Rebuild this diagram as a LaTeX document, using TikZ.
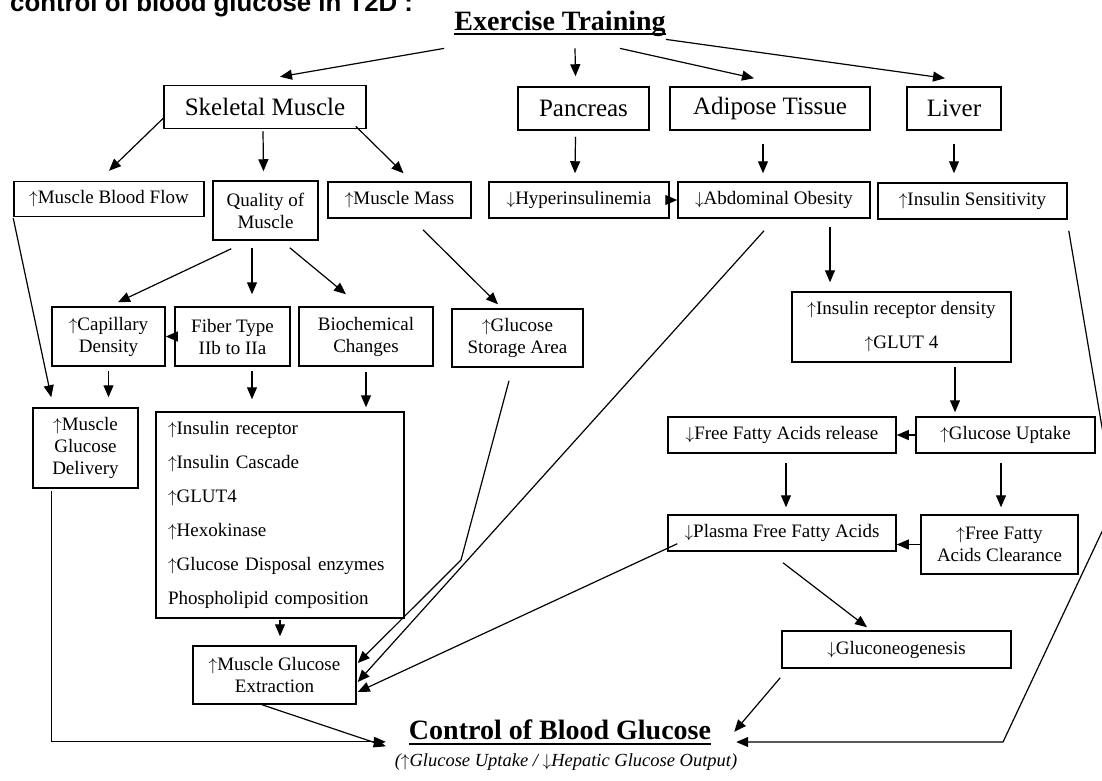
\documentclass[tikz,border=0pt]{standalone}
\usepackage{fontspec}
\setmainfont{Liberation Serif}
\newfontfamily\headfont{Liberation Sans}
\usetikzlibrary{arrows.meta,calc}
\newcommand{\incr}{$\uparrow$}
\newcommand{\decr}{$\downarrow$}

\begin{document}
\begin{tikzpicture}[x=1pt,y=-1pt,
	bigbox/.style={draw, line width=1.5pt, inner sep=0pt, minimum height=43pt,
	font=\fontsize{25}{30}\selectfont},
	smallbox/.style={draw, line width=1.5pt, inner sep=0pt, align=center,
	font=\fontsize{19}{22}\selectfont},
	title/.style={inner sep=0pt, anchor=base, font=\bfseries\fontsize{28}{32}\selectfont},
	arr/.style={-{Triangle[length=12pt,width=10pt]}, line width=1.2pt}
	]
	\useasboundingbox (0,0) rectangle (1102,780);
	\clip (0,0) rectangle (1102,780);
	
	\node[anchor=base west, inner sep=0pt, font=\headfont\bfseries\fontsize{25.8}{30}\selectfont]
	(ttl) at (10,11) {control of blood glucose in T2D :};
	
	\node[title] (exer) at (560,30) {Exercise Training};
	\draw[line width=1.4pt] ([yshift=-4pt]exer.base west) -- ([yshift=-4pt]exer.base east);
	
	\node[bigbox, minimum width=202pt] (skel) at (265,107) {Skeletal Muscle};
	\node[bigbox, minimum width=131pt] (panc) at (583.5,108.5) {Pancreas};
	\node[bigbox, minimum width=200pt] (adip) at (770,108.5) {Adipose Tissue};
	\node[bigbox, minimum width=94pt] (liver) at (954,108.5) {Liver};
	
	\node[smallbox, minimum width=190pt, minimum height=35pt] (blood) at (109,199) {\incr Muscle Blood Flow};
	\node[smallbox, minimum width=105pt, minimum height=59pt] (qual) at (265.5,210.5) {Quality of\\Muscle};
	\node[smallbox, minimum width=143pt, minimum height=36pt] (mass) at (399.5,200) {\incr Muscle Mass};
	\node[smallbox, minimum width=180pt, minimum height=36pt] (hyper) at (579,200) {\decr Hyperinsulinemia};
	\node[smallbox, minimum width=192pt, minimum height=36pt] (abd) at (774,200) {\decr Abdominal Obesity};
	\node[smallbox, minimum width=189pt, minimum height=36pt] (inssen) at (972.5,201) {\incr Insulin Sensitivity};
	
	\node[smallbox, minimum width=113pt, minimum height=59pt] (cap) at (108.5,336.5) {\incr Capillary\\Density};
	\node[smallbox, minimum width=115pt, minimum height=59pt] (fiber) at (232.5,336.5) {Fiber Type\\IIb to IIa};
	\node[smallbox, minimum width=134pt, minimum height=59pt] (bioch) at (366,336.5) {Biochemical\\Changes};
	\node[smallbox, minimum width=131pt, minimum height=58pt] (stor) at (517.5,338) {\incr Glucose\\Storage Area};
	
	\node[smallbox, minimum width=105pt, minimum height=80pt] (deliv) at (85.5,448) {\incr Muscle\\Glucose\\Delivery};
	\node[smallbox, align=left, text width=224pt, inner xsep=12pt, minimum height=206pt,
	font=\fontsize{19}{34}\selectfont] (list) at (280,515)
	{\incr Insulin receptor\\\incr Insulin Cascade\\\incr GLUT4\\\incr Hexokinase\\\incr Glucose Disposal enzymes\\Phospholipid composition};
	\node[smallbox, minimum width=163pt, minimum height=58pt] (extr) at (274.5,675) {\incr Muscle Glucose\\Extraction};
	
	\node[smallbox, minimum width=219pt, minimum height=70pt, font=\fontsize{19}{34}\selectfont]
	(insrec) at (901.5,327) {\incr Insulin receptor density\\\incr GLUT 4};
	\node[smallbox, minimum width=228pt, minimum height=36pt] (ffar) at (782,435) {\decr Free Fatty Acids release};
	\node[smallbox, minimum width=179pt, minimum height=36pt] (gup) at (1005.5,435) {\incr Glucose Uptake};
	\node[smallbox, minimum width=228pt, minimum height=36pt] (plasma) at (782,533) {\decr Plasma Free Fatty Acids};
	\node[smallbox, minimum width=157pt, minimum height=59pt] (clear) at (999.5,544.5) {\incr Free Fatty\\Acids Clearance};
	\node[smallbox, minimum width=229pt, minimum height=37pt] (gluc) at (896.5,649.5) {\decr Gluconeogenesis};
	
	\node[title] (ctrl) at (560,739) {Control of Blood Glucose};
	\draw[line width=1.4pt] ([yshift=-5pt]ctrl.base west) -- ([yshift=-5pt]ctrl.base east);
	\node[inner sep=0pt, font=\itshape\fontsize{18.5}{22}\selectfont] (sub) at (566,762)
	{(\incr Glucose Uptake / \decr Hepatic Glucose Output)};
	
	\coordinate (storbend) at (461,560);
	\coordinate (sensbend) at (1115,504);
	\coordinate (sensfoot) at (1003,742);
	
	\draw[arr] ([shift={(-10,12)}]exer.south west) -- ([shift={(15,-8)}]skel.north);
	\draw[arr] ([shift={(15,12)}]exer.south) -- ([shift={(-8,-10)}]panc.north);
	\draw[arr] ([shift={(60,12)}]exer.south) -- ([shift={(-16,-8)}]adip.north);
	\draw[arr] ([shift={(0,3)}]exer.south east) -- ([shift={(-9,-8)}]liver.north);
	
	\draw[arr] ([shift={(0,-11)}]skel.south west) -- ([shift={(0,-10)}]blood.north);
	\draw[arr] ([shift={(-2,2)}]skel.south) -- ([shift={(-2,-9)}]qual.north);
	\draw[arr] ([shift={(-11,-3)}]skel.south east) -- ([shift={(4,-8)}]mass.north);
	\draw[arr] ([shift={(-8,6)}]panc.south) -- ([shift={(-4,-8)}]hyper.north);
	\draw[arr] ([shift={(-7,13)}]adip.south) -- ([shift={(-11,-8)}]abd.north);
	\draw[arr] ([shift={(0,13)}]liver.south) -- ([shift={(-18.5,-9)}]inssen.north);
	\draw[arr] (hyper.east) -- (abd.west);
	
	\draw[arr] ([shift={(19,8)}]qual.south west) -- ([shift={(9.5,-4)}]cap.north);
	\draw[arr] ([shift={(-13.5,7)}]qual.south) -- ([shift={(19.5,-12)}]fiber.north);
	\draw[arr] ([shift={(-29,7)}]qual.south east) -- ([shift={(-20,-12)}]bioch.north);
	\draw[arr] (fiber.west) -- (cap.east);
	\draw[arr] ([shift={(23.5,11)}]mass.south) -- ([shift={(-19.5,-4)}]stor.north);
	
	\draw[arr] ([shift={(0,1)}]blood.south west) -- ([shift={(19,-10)}]deliv.north west);
	\draw[arr] ([shift={(0,4)}]cap.south) -- ([shift={(23,-10)}]deliv.north);
	\draw[arr] ([shift={(19.5,4)}]fiber.south) -- ([shift={(-28,-12)}]list.north);
	\draw[arr] ([shift={(0,5)}]bioch.south) -- ([shift={(86,-4)}]list.north);
	\draw[arr] ([shift={(0,1)}]list.south) -- ([shift={(5.5,-9)}]extr.north);
	
	\draw[arr] ([shift={(-8.5,13)}]stor.south) -- (storbend) -- ([shift={(1,-12)}]extr.east);
	\draw[arr] ([shift={(-10,12)}]abd.south) -- ([shift={(1,7)}]extr.east);
	\draw[arr] ([shift={(10,-8)}]plasma.south west) -- ([shift={(1,17)}]extr.east);
	
	\draw[arr] ([shift={(56,8)}]abd.south) -- ([shift={(-71.5,-9)}]insrec.north);
	\draw[arr] ([shift={(53.5,4)}]insrec.south) -- ([shift={(-50.5,-4)}]gup.north);
	\draw[arr] (gup.west) -- (ffar.east);
	\draw[arr] ([shift={(4,9)}]ffar.south) -- ([shift={(4,-7)}]plasma.north);
	\draw[arr] ([shift={(-4.5,9)}]gup.south) -- ([shift={(1.5,-7)}]clear.north);
	\draw[arr] (clear.west) -- (clear.west -| plasma.east);
	\draw[arr] ([shift={(1,11)}]plasma.south) -- ([shift={(-29.5,-3)}]gluc.north);
	
	\draw[arr] ([shift={(-1,9)}]gluc.south west) -- ([shift={(23,2.5)}]ctrl.east);
	\draw[arr] ([shift={(1,11)}]inssen.south east) -- (sensbend) -- (sensfoot)
	-- ($(ctrl.east |- sensfoot)+(25,0)$);
	\draw[arr] ([shift={(19,2)}]deliv.south west) |- ($(ctrl.west)+(-23,12.5)$);
	\draw[arr] ([shift={(-12.5,0)}]extr.south) -- ($(ctrl.west)+(-23,17)$);
\end{tikzpicture}
\end{document}
